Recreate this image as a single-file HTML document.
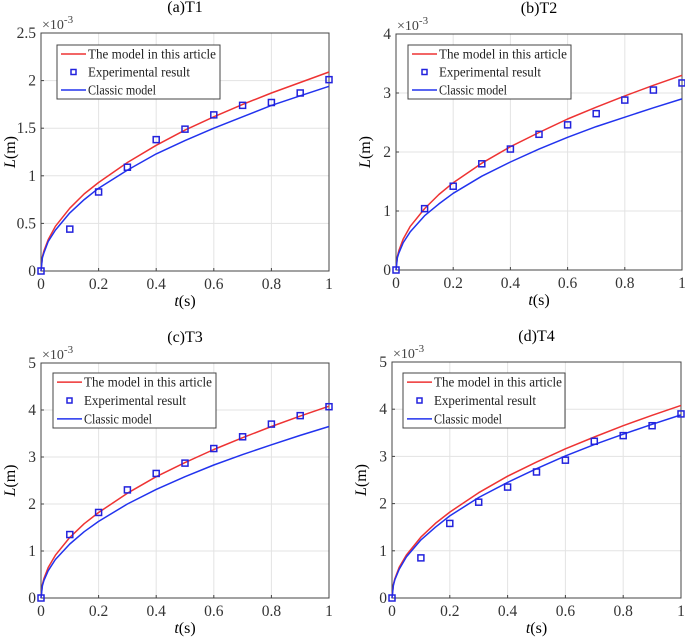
<!DOCTYPE html>
<html><head><meta charset="utf-8">
<style>
html,body{margin:0;padding:0;background:#fff;}
svg{display:block;font-family:"Liberation Serif",serif;}
</style></head>
<body>
<svg id="chart" width="685" height="644" viewBox="0 0 685 644" xmlns="http://www.w3.org/2000/svg"></svg>
<script>
const curveT = [0,0.005,0.01,0.025,0.05,0.1,0.15,0.2,0.3,0.4,0.5,0.6,0.7,0.8,0.9,1];
const expT = [0,0.1,0.2,0.3,0.4,0.5,0.6,0.7,0.8,0.9,1];
const xTicks = [0,0.2,0.4,0.6,0.8,1];
const xTickLabels = ["0","0.2","0.4","0.6","0.8","1"];

const titleA = "(a)T1";
const redA = [0,0.15,0.21,0.33,0.47,0.66,0.81,0.93,1.14,1.32,1.48,1.62,1.75,1.87,1.98,2.09];
const blueA = [0,0.14,0.19,0.31,0.43,0.61,0.75,0.87,1.06,1.23,1.37,1.50,1.62,1.74,1.84,1.94];
const expA = [0,0.44,0.83,1.09,1.38,1.49,1.64,1.74,1.77,1.87,2.01];
const yTicksA = [0,0.5,1,1.5,2,2.5];
const yLabelsA = ["0","0.5","1","1.5","2","2.5"];

const titleB = "(b)T2";
const redB = [0,0.23,0.33,0.52,0.74,1.04,1.28,1.48,1.81,2.09,2.33,2.56,2.76,2.95,3.13,3.3];
const blueB = [0,0.21,0.29,0.46,0.65,0.92,1.12,1.30,1.59,1.83,2.05,2.25,2.43,2.59,2.75,2.9];
const expB = [0,1.04,1.42,1.80,2.05,2.30,2.46,2.65,2.88,3.05,3.17];
const yTicksB = [0,1,2,3,4];
const yLabelsB = ["0","1","2","3","4"];

const titleC = "(c)T3";
const redC = [0,0.29,0.41,0.65,0.91,1.29,1.58,1.82,2.23,2.58,2.88,3.16,3.41,3.65,3.87,4.08];
const blueC = [0,0.26,0.37,0.58,0.82,1.15,1.41,1.63,2.0,2.31,2.58,2.83,3.05,3.26,3.46,3.65];
const expC = [0,1.35,1.82,2.30,2.65,2.87,3.18,3.43,3.70,3.88,4.07];
const yTicksC = [0,1,2,3,4,5];
const yLabelsC = ["0","1","2","3","4","5"];

const titleD = "(d)T4";
const redD = [0,0.29,0.41,0.65,0.91,1.29,1.58,1.82,2.23,2.58,2.88,3.16,3.41,3.65,3.87,4.08];
const blueD = [0,0.27,0.39,0.61,0.87,1.23,1.50,1.74,2.13,2.45,2.74,3.01,3.25,3.47,3.68,3.88];
const expD = [0,0.85,1.58,2.03,2.35,2.67,2.92,3.32,3.44,3.65,3.90];
const yTicksD = [0,1,2,3,4,5];
const yLabelsD = ["0","1","2","3","4","5"];

const legendLabels = ["The model in this article","Experimental result","Classic model"];

const NS = "http://www.w3.org/2000/svg";
const svg = document.getElementById('chart');
function mk(tag, attrs, parent, text){
  const e = document.createElementNS(NS, tag);
  for (const k in attrs) e.setAttribute(k, attrs[k]);
  if (text !== undefined) e.textContent = text;
  parent.appendChild(e);
  return e;
}

function panel(id, box, title, yTicks, yLabels, red, blue, exp, legBox){
  const [L,T,R,B] = box;
  const yMax = yTicks[yTicks.length-1];
  const g = mk('g', {}, svg);
  
  
  const xs = v => L + v * (R - L);
  const ys = v => B - v / yMax * (B - T);
  xTicks.forEach(v => {
    const l = mk('line', {x1:xs(v),x2:xs(v),y1:T,y2:B,stroke:'#e3e3e3','stroke-width':1}, g);
    
    
  });
  yTicks.forEach(v => {
    const l = mk('line', {x1:L,x2:R,y1:ys(v),y2:ys(v),stroke:'#e3e3e3','stroke-width':1}, g);
    
    
  });
  const fr = mk('rect', {x:L,y:T,width:R-L,height:B-T,fill:'none',stroke:'#444','stroke-width':1}, g);
  
  
  xTicks.forEach((v,i) => {
    mk('line', {x1:xs(v),x2:xs(v),y1:B,y2:B-3,stroke:'#444'}, g);
    const t = mk('text', {x:xs(v),y:B+18,'text-anchor':'middle','font-size':15.5,fill:'#333'}, g, xTickLabels[i]);
    
    
  });
  yTicks.forEach((v,i) => {
    mk('line', {x1:L,x2:L+3,y1:ys(v),y2:ys(v),stroke:'#444'}, g);
    const t = mk('text', {x:L-5,y:ys(v)+5,'text-anchor':'end','font-size':15.5,fill:'#333'}, g, yLabels[i]);
    
    
  });
  const ex = mk('text', {x:L+1,y:T-4,'font-size':14,fill:'#444'}, g, '×10');
  
  
  mk('tspan', {dy:-6,'font-size':11}, ex, '-3');
  const tt = mk('text', {x:(L+R)/2,y:T-21,'text-anchor':'middle','font-size':16,fill:'#000'}, g, title);
  
  
  const xt = mk('text', {x:(L+R)/2,y:B+35,'text-anchor':'middle','font-size':16,fill:'#000'}, g);
  
  
  mk('tspan', {'font-style':'italic'}, xt, 't');
  mk('tspan', {}, xt, '(s)');
  const yt = mk('text', {x:0,y:0,'text-anchor':'middle','font-size':16,fill:'#000',transform:`translate(${L-26},${(T+B)/2}) rotate(-90)`}, g);
  
  
  mk('tspan', {'font-style':'italic'}, yt, 'L');
  mk('tspan', {}, yt, '(m)');
  const pts = arr => arr.map((v,i) => xs(curveT[i]).toFixed(1)+','+ys(v).toFixed(1)).join(' ');
  const rl = mk('polyline', {points:pts(red),fill:'none',stroke:'#ee3333','stroke-width':1.5,'stroke-linejoin':'round'}, g);
  
  
  const bl = mk('polyline', {points:pts(blue),fill:'none',stroke:'#2233ee','stroke-width':1.5,'stroke-linejoin':'round'}, g);
  
  
  exp.forEach((v,i) => {
    const m = mk('rect', {x:xs(expT[i])-3,y:ys(v)-3,width:6,height:6,fill:'none',stroke:'#2222dd','stroke-width':1.5}, g);
    
    
  });
  const [lx,ly,lw,lh] = legBox;
  const lg = mk('g', {}, g);
  
  
  mk('rect', {x:lx,y:ly,width:lw,height:lh,fill:'#fff',stroke:'#444','stroke-width':1}, lg);
  const rowH = lh/3;
  for (let i=0;i<3;i++){
    const cy = ly + rowH*(i+0.5);
    if (i===1) mk('rect', {x:lx+14,y:cy-2.5,width:5,height:5,fill:'none',stroke:'#2222dd','stroke-width':1.5}, lg);
    else mk('line', {x1:lx+4,x2:lx+29,y1:cy,y2:cy,stroke:i===0?'#ee3333':'#2233ee','stroke-width':1.5}, lg);
    const lt = mk('text', {x:lx+31,y:cy+4.5,'font-size':13.3,fill:'#222',textLength:i===0?128:(i===1?102:68),lengthAdjust:'spacingAndGlyphs'}, lg, legendLabels[i]);
    
    
  }
}

panel('a', [41,33,329,271], titleA, yTicksA, yLabelsA, redA, blueA, expA, [57,45,163,54]);
panel('b', [396,34,682,270], titleB, yTicksB, yLabelsB, redB, blueB, expB, [408,45,163,54]);
panel('c', [41,363,329,598], titleC, yTicksC, yLabelsC, redC, blueC, expC, [53,373,163,55]);
panel('d', [392,362,681,598], titleD, yTicksD, yLabelsD, redD, blueD, expD, [403,373,162,55]);
</script>
</body></html>
